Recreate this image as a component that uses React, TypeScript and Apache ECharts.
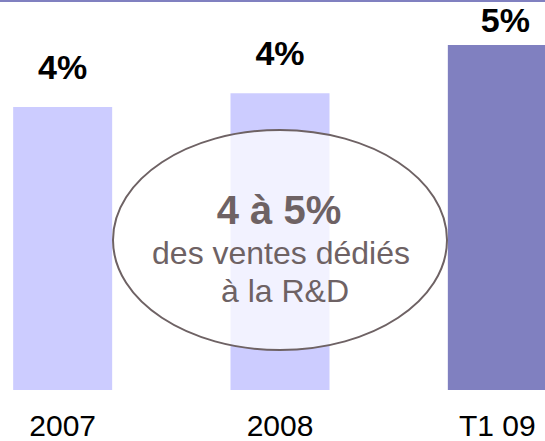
import React, { useEffect, useRef } from "react";
import * as echarts from "echarts";

const categories = ["2007", "2008", "T1 09"];
const values = [4.1, 4.3, 5.0];
const valueLabels = ["4%", "4%", "5%"];
const barColors = ["#ccccff", "#ccccff", "#8080c0"];
const labelDistances = [26, 26, 11];
const labelOffsets: [number, number][] = [[0, 0], [0, 0], [8, 0]];
const calloutLines = ["4 à 5%", "des ventes dédiés", "à la R&D"];

export default function App() {
  const ref = useRef<HTMLDivElement>(null);
  useEffect(() => {
    if (!ref.current) return;
    const chart = echarts.init(ref.current, undefined, { renderer: "svg" });
    const textColor = "#6e6264";
    chart.setOption({
      animation: false,
      backgroundColor: "#ffffff",
      grid: {
        left: -46,
        width: 652,
        top: 0,
        bottom: 51,
        containLabel: false,
        outerBoundsMode: "none",
      },
      xAxis: {
        type: "category",
        data: categories,
        axisLine: { show: false },
        axisTick: { show: false },
        axisLabel: {
          margin: 20,
          color: "#000000",
          fontSize: 30,
          lineHeight: 30,
          fontFamily: "Liberation Sans, Arial, sans-serif",
        },
      },
      yAxis: {
        type: "value",
        min: 0,
        max: 5.652,
        show: false,
        splitLine: { show: false },
      },
      series: [
        {
          type: "bar",
          barWidth: 99,
          data: values.map((v, i) => ({
            value: v,
            itemStyle: { color: barColors[i] },
            label: {
              show: true,
              position: "top",
              distance: labelDistances[i],
              offset: labelOffsets[i],
              formatter: valueLabels[i],
              fontSize: 34,
              lineHeight: 28,
              fontWeight: "bold",
              color: "#000000",
              fontFamily: "Liberation Sans, Arial, sans-serif",
            },
          })),
        },
      ],
      graphic: [
        {
          type: "rect",
          z: 100,
          shape: { x: 0, y: 0, width: 545, height: 2 },
          style: { fill: "#8080c0" },
        },
        {
          type: "ellipse",
          z: 100,
          shape: { cx: 280, cy: 240, rx: 167, ry: 110 },
          style: { fill: "rgba(255,255,255,0.75)", stroke: "#6e6264", lineWidth: 2 },
        },
        {
          type: "text",
          z: 101,
          x: 279,
          y: 210,
          style: {
            text: calloutLines[0],
            fontSize: 40,
            fontWeight: "bold",
            fill: textColor,
            align: "center",
            verticalAlign: "middle",
            fontFamily: "Liberation Sans, Arial, sans-serif",
          },
        },
        {
          type: "text",
          z: 101,
          x: 281,
          y: 253,
          style: {
            text: calloutLines[1],
            fontSize: 32,
            fill: textColor,
            align: "center",
            verticalAlign: "middle",
            fontFamily: "Liberation Sans, Arial, sans-serif",
          },
        },
        {
          type: "text",
          z: 101,
          x: 285,
          y: 291,
          style: {
            text: calloutLines[2],
            fontSize: 32,
            fill: textColor,
            align: "center",
            verticalAlign: "middle",
            fontFamily: "Liberation Sans, Arial, sans-serif",
          },
        },
      ],
    });
    return () => chart.dispose();
  }, []);
  return (
    <div
      ref={ref}
      style={{ position: "fixed", left: 0, top: 0, width: 545, height: 441 }}
    />
  );
}
